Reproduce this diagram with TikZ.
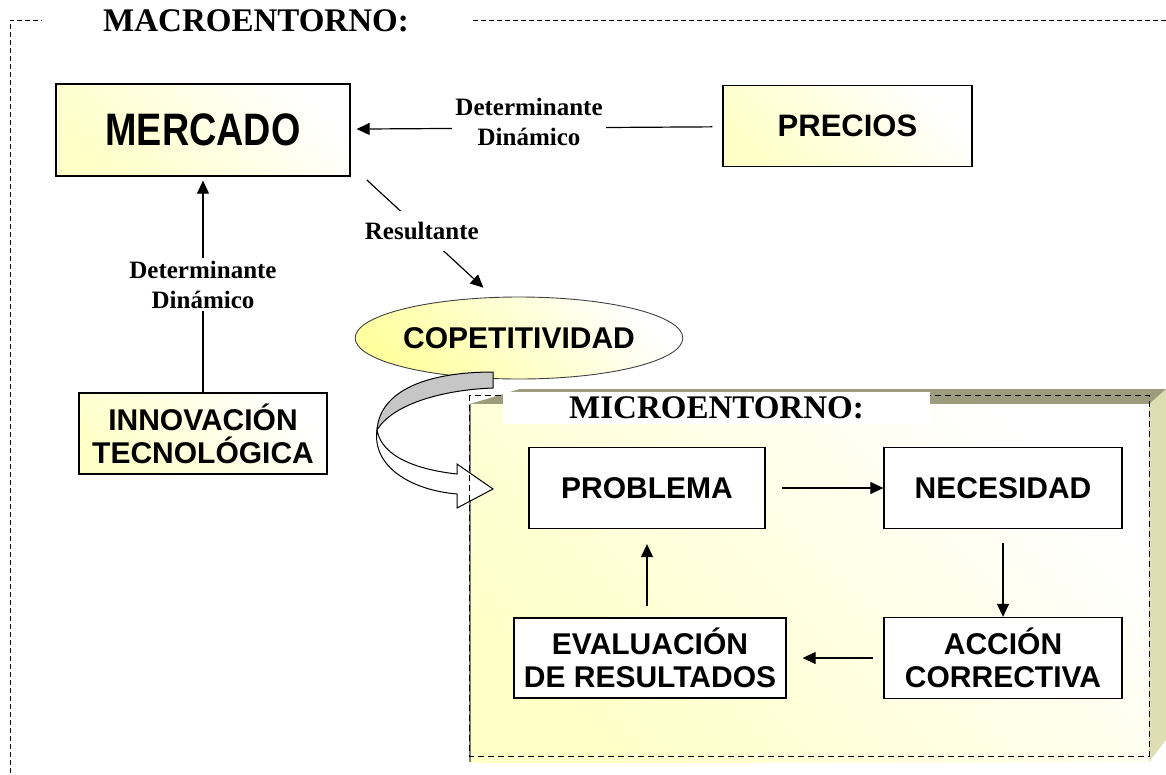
\documentclass[tikz,border=0pt]{standalone}
\usepackage{fontspec}
\setmainfont{Liberation Serif}
\setsansfont{Liberation Sans}
\newfontfamily\tallsans[FakeStretch=0.83]{Liberation Sans}
\usepackage{xcolor}
\usepackage{tikz}
\usetikzlibrary{arrows.meta,positioning,calc,shapes.geometric}

\definecolor{boxyellow}{HTML}{FFFFC8}
\definecolor{olivetop}{HTML}{9C9C7C}
\definecolor{oliveside}{HTML}{DEDEB2}
\definecolor{bandgray}{HTML}{C6C6C6}

\begin{document}
\begin{tikzpicture}[->, >={Triangle[length=13pt,width=12pt]}, x=1pt, y=-1pt, line width=1.2pt, node distance=356pt]
	\tikzstyle{box}=[rectangle, draw=black, line width=1.3pt, fill=white, align=center, inner sep=0pt, font=\sffamily\bfseries\fontsize{30}{33}\selectfont]
	\tikzstyle{macrobox}=[box, top color=white, bottom color=boxyellow, shading angle=-45]
	\tikzstyle{lbl}=[fill=white, align=center, inner sep=3pt, font=\bfseries\fontsize{25}{30}\selectfont]
	\tikzstyle{title}=[fill=white, inner sep=0pt, font=\bfseries\fontsize{33}{36}\selectfont]
	\useasboundingbox (0,0) rectangle (1166,774);

	% macroentorno
	\draw[-, line width=1pt, dash pattern=on 5pt off 3pt] (1166,20) -- (10,20) -- (10,774);
	\node[title, minimum width=428pt, minimum height=34pt] (macro) at (256,21) {MACROENTORNO:};

	% microentorno (caja 3D)
	\fill[-, oliveside] (1149,404) -- (1166,389) -- (1166,740) -- (1149,762) -- cycle;
	\fill[-, olivetop] (470,404) -- (520,389) -- (1166,389) -- (1149,404) -- cycle;
	\shade[-, top color=white, bottom color=boxyellow, shading angle=-45] (470,404) rectangle (1149,762);
	\draw[-, gray, line width=1.5pt] (470,404) -- (470,762);

	\node[ellipse, draw=black!75, line width=0.9pt, minimum width=260pt, minimum height=82pt, inner sep=0pt,
		top color=white, bottom color=boxyellow!80!yellow, shading angle=-45,
		font=\sffamily\bfseries\fontsize{30}{33}\selectfont] (C) at (519,338) {COPETITIVIDAD};

	% flecha curva
	\filldraw[-, fill=white, draw=black, line width=1pt] (377,430) .. controls (382,458) and (420,470) .. (457,474)
		-- (457,464) -- (493,489) -- (457,508) -- (457,494) .. controls (410,490) and (372,466) .. (377,430) -- cycle;
	\filldraw[-, fill=bandgray, draw=black, line width=1pt] (493,372) .. controls (428,372) and (380,390) .. (377,430)
		.. controls (392,405) and (440,390) .. (493,388) -- cycle;

	\draw[-, line width=1pt, dash pattern=on 6pt off 4pt] (469,395) rectangle (1149,756);
	\node[title, minimum width=427pt, minimum height=32pt] (micro) at (716.5,408) {MICROENTORNO:};

	\node[macrobox, minimum width=294pt, minimum height=92pt, font=\tallsans\bfseries\fontsize{45.5}{48}\selectfont] (M) at (203,130) {MERCADO};
	\node[macrobox, minimum width=249pt, minimum height=81pt, font=\sffamily\bfseries\fontsize{31}{34}\selectfont] (P) at (847.5,126) {PRECIOS};
	\node[macrobox, minimum width=248pt, minimum height=81pt] (I) at (203,433.5) {INNOVACIÓN\\TECNOLÓGICA};

	\node[box, minimum width=236pt, minimum height=81pt] (PB) at (647,488) {PROBLEMA};
	\node[box, minimum width=238pt, minimum height=81pt] (NE) [right of=PB] {NECESIDAD};
	\node[box, minimum width=238pt, minimum height=81pt] (AC) [below of=NE, node distance=170pt] {ACCIÓN\\CORRECTIVA};
	\node[box, minimum width=272pt, minimum height=80pt] (EV) [left of=AC, node distance=353pt] {EVALUACIÓN\\DE RESULTADOS};

	\path
	(P) edge[shorten <=10pt, shorten >=6pt] node[lbl, pos=0.52, yshift=6pt]{Determinante\\Dinámico} (M)
	(I) edge[shorten >=4pt] node[lbl]{Determinante\\Dinámico} (M)
	(PB) edge[shorten <=16pt] (NE)
	(NE) edge[shorten <=14pt] (AC)
	(AC) edge[shorten <=10pt, shorten >=16pt] (EV)
	(EV.north -| PB) edge[shorten <=11pt, shorten >=15pt] (PB);
	\draw[shorten <=22pt, shorten >=13pt] ($(M.east)!0.75!(M.south east)$) -- node[lbl, inner ysep=11pt]{Resultante} ($(C.north)+(-26,0)$);
	%\node[lbl] at (716,600) {?};
\end{tikzpicture}
\end{document}
